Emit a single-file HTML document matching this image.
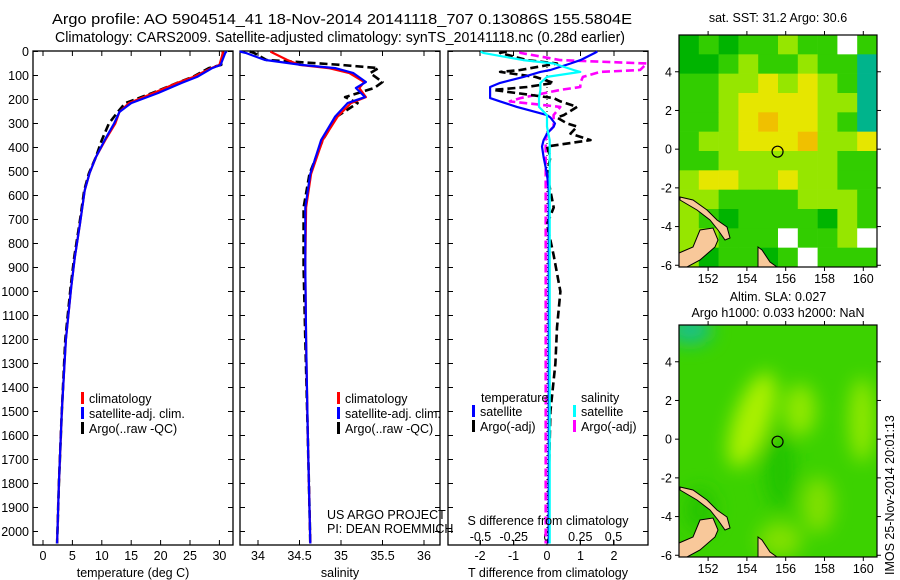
<!DOCTYPE html>
<html><head><meta charset="utf-8"><style>
html,body{margin:0;padding:0;background:#fff}
svg{display:block;font-family:"Liberation Sans",sans-serif}
</style></head><body>
<svg id="c" width="900" height="580" viewBox="0 0 900 580" xmlns="http://www.w3.org/2000/svg">
<text x="342" y="24" font-size="14.5" text-anchor="middle" textLength="580" lengthAdjust="spacingAndGlyphs">Argo profile: AO 5904514_41 18-Nov-2014 20141118_707 0.13086S 155.5804E</text>
<text x="340" y="42" font-size="14.5" text-anchor="middle" textLength="570" lengthAdjust="spacingAndGlyphs">Climatology: CARS2009. Satellite-adjusted climatology: synTS_20141118.nc (0.28d earlier)</text>
<g id="g"></g>
</svg>
<script>
// ---- data (depth in m) ----
const tDepth   = [0, 6, 56, 69, 106, 131, 173, 215, 252, 300, 369, 440, 508, 579, 717, 858, 983, 1200, 1500, 1800, 2050];
const tClim    = [30.5, 30.6, 30.0, 28.6, 25.6, 22.8, 18.8, 14.6, 13.0, 12.3, 10.6, 9.0, 7.9, 7.1, 6.3, 5.4, 4.8, 3.9, 3.2, 2.7, 2.4];
const tSat     = [31.2, 31.0, 30.2, 28.8, 26.2, 23.6, 19.6, 15.0, 13.0, 12.1, 10.5, 9.0, 7.9, 7.1, 6.3, 5.4, 4.8, 3.9, 3.2, 2.7, 2.4];
const tArgo    = [30.6, 30.6, 30.3, 28.2, 25.5, 22.8, 18.6, 14.0, 12.7, 11.2, 10.0, 9.0, 7.8, 7.0, 6.2, 5.3, 4.7, 3.8, 3.2, 2.7, 2.4];
const sDepth   = [0, 6, 35, 56, 69, 90, 127, 152, 190, 215, 271, 369, 510, 650, 900, 1200, 1600, 2050];
const sClim    = [34.15, 34.18, 34.35, 34.5, 34.85, 35.1, 35.28, 35.22, 35.3, 35.12, 34.96, 34.78, 34.64, 34.58, 34.57, 34.58, 34.6, 34.63];
const sSat     = [33.78, 33.85, 34.08, 34.52, 34.93, 35.15, 35.3, 35.18, 35.29, 35.08, 34.93, 34.76, 34.63, 34.57, 34.57, 34.58, 34.6, 34.63];
const sArgo    = [33.9, 33.95, 34.1, 35.0, 35.45, 35.35, 35.5, 35.4, 35.05, 35.2, 34.95, 34.78, 34.62, 34.55, 34.55, 34.57, 34.6, 34.63];
const dDepth   = [0, 6, 36, 50, 77, 85, 106, 131, 148, 160, 194, 208, 231, 265, 275, 300, 313, 342, 369, 396, 440, 510, 580, 650, 720, 850, 1000, 1150, 1300, 1500, 1800, 2050];
const dTsat    = [1.5, 1.43, 1.0, 0.7, 0.1, -0.2, -0.7, -1.4, -1.7, -1.7, -1.7, -1.4, -0.9, 0.0, 0.1, 0.24, 0.2, 0.0, -0.1, -0.15, -0.1, 0.0, 0.05, 0.05, 0.05, 0.05, 0.05, 0.05, 0.05, 0.05, 0.05, 0.05];
const dTargo   = [-1.2, -1.4, -0.6, 0.3, -0.8, -1.4, -0.35, 0.2, -0.6, -1.6, 0.2, 0.4, 0.9, 0.5, 0.3, 0.6, 0.9, 0.7, 1.3, 0.0, 0.1, 0.0, 0.1, 0.2, 0.0, 0.2, 0.4, 0.3, 0.25, 0.1, 0.05, 0.05];
const dSsat    = [-0.5, -0.48, -0.18, 0.05, 0.2, 0.25, 0.0, -0.05, -0.05, -0.05, -0.06, -0.06, -0.06, 0.0, 0.0, 0.0, 0.0, 0.01, 0.02, 0.02, 0.02, 0.02, 0.02, 0.02, 0.02, 0.02, 0.02, 0.02, 0.02, 0.02, 0.02, 0.02];
const dSargo   = [-0.2, -0.2, 0.1, 0.75, 0.7, 0.4, 0.27, 0.25, 0.25, 0.1, -0.2, -0.28, 0.1, 0.05, 0.05, 0.05, 0.05, 0.0, -0.01, -0.01, -0.01, -0.01, -0.01, -0.01, -0.01, -0.01, -0.01, -0.01, -0.01, -0.01, -0.01, -0.01];
const depthTicks = [0,100,200,300,400,500,600,700,800,900,1000,1100,1200,1300,1400,1500,1600,1700,1800,1900,2000];
const tTicks = [0,5,10,15,20,25,30];
const sTicks = [34,34.5,35,35.5,36];
const dTTicks = [-2,-1,0,1,2];
const dSTicks = [-0.5,-0.25,0,0.25,0.5];
const dSTickLabels = ["-0.5","-0.25","0","0.25","0.5"];
const lonTicks = [152,154,156,158,160];
const latTicks = [4,2,0,-2,-4,-6];
// SST map coarse grid (10 cols x 12 rows), class codes: 0 teal,1 dkgreen,2 green,3 lime,4 yellow,5 orange,9 missing
const sstGrid = [
 [1,2,1,2,2,3,2,2,9,2],
 [1,1,2,3,2,2,3,2,2,0],
 [2,2,3,3,4,3,4,3,2,0],
 [2,2,3,4,4,4,4,3,3,0],
 [2,2,3,4,5,4,4,3,2,0],
 [2,3,3,4,4,4,5,3,3,4],
 [2,2,3,3,3,3,3,3,2,2],
 [3,4,4,3,3,4,3,3,2,2],
 [3,3,2,2,2,2,3,3,3,2],
 [3,2,1,2,2,2,2,1,3,2],
 [3,3,2,2,2,9,2,2,3,9],
 [3,1,2,2,1,2,9,2,2,2]];
const argoLon = 155.58, argoLat = -0.13;

const NS='http://www.w3.org/2000/svg';
const G=document.getElementById('g');
function el(t,a,p){const e=document.createElementNS(NS,t);for(const k in a)e.setAttribute(k,a[k]);(p||G).appendChild(e);return e;}
const Y0=51.5, YPX=0.24, TOP=51, BOT=545;
const yD=d=>Y0+d*YPX;
const xT=v=>43+v*5.88;
const xS=v=>258+(v-34)*83;
const xDT=v=>547+v*33.5;
const xDS=v=>547+v*133;

function panel(name,x0,x1,labels){
  const f=el('rect',{x:x0,y:TOP,width:x1-x0,height:BOT-TOP,fill:'none',stroke:'#000','stroke-width':1.3});
  
  
  depthTicks.forEach(d=>{
    el('line',{x1:x0,x2:x0+5,y1:yD(d),y2:yD(d),stroke:'#000'});
    el('line',{x1:x1-5,x2:x1,y1:yD(d),y2:yD(d),stroke:'#000'});
    if(labels){const t=el('text',{x:x0-4,y:yD(d)+4.5,'font-size':12.5,'text-anchor':'end'});t.textContent=d;
      
      }
  });
}
function xticks(ticks,xf,labels,ly){
  ticks.forEach((v,i)=>{const x=xf(v);
    el('line',{x1:x,x2:x,y1:TOP,y2:TOP+5,stroke:'#000'});
    el('line',{x1:x,x2:x,y1:BOT-5,y2:BOT,stroke:'#000'});
    const t=el('text',{x:x,y:ly,'font-size':12.5,'text-anchor':'middle'});t.textContent=labels?labels[i]:v;
    
    
  });
}
function line(depths,vals,xf,color,dash,name,w){
  const pts=depths.map((d,i)=>xf(vals[i]).toFixed(1)+','+yD(d).toFixed(1)).join(' ');
  const a={points:pts,fill:'none',stroke:color,'stroke-width':w||2.2,'stroke-linejoin':'round'};
  if(dash)a['stroke-dasharray']=dash;
  const p=el('polyline',a);
  
  
}
function txt(x,y,s,size,anchor,name){const t=el('text',{x:x,y:y,'font-size':size,'text-anchor':anchor||'start'});t.textContent=s;
  
  return t;}
function legend(x,y,items){items.forEach((it,i)=>{
  el('rect',{x:x,y:y+i*15-6,width:3,height:12,fill:it[0]});
  txt(x+8,y+i*15+5,it[1],12.5,'start','legend-entry');
});}

// Panel 1
panel('temperature-panel',33,233,true);
xticks(tTicks,xT,null,560);
line(tDepth,tArgo,xT,'#000','8,4','argo-temperature-line',2.6);
line(tDepth,tClim,xT,'#f00',null,'climatology-temperature-line');
line(tDepth,tSat,xT,'#00f',null,'satellite-temperature-line');
txt(133,577,'temperature (deg C)',12.5,'middle','x-axis-title-temperature');
legend(81,398,[['#f00','climatology'],['#00f','satellite-adj. clim.'],['#000','Argo(..raw -QC)']]);

// Panel 2
panel('salinity-panel',240,440,false);
xticks(sTicks,xS,null,560);
line(sDepth,sArgo,xS,'#000','8,4','argo-salinity-line',2.6);
line(sDepth,sClim,xS,'#f00',null,'climatology-salinity-line');
line(sDepth,sSat,xS,'#00f',null,'satellite-salinity-line');
txt(340,577,'salinity',12.5,'middle','x-axis-title-salinity');
legend(337,398,[['#f00','climatology'],['#00f','satellite-adj. clim.'],['#000','Argo(..raw -QC)']]);
txt(327,519,'US ARGO PROJECT',12.5,'start','project-label');
txt(327,533,'PI: DEAN ROEMMICH',12.5,'start','pi-label');

// Panel 3
panel('difference-panel',448,648,false);
el('line',{x1:547,x2:547,y1:TOP,y2:BOT,stroke:'#000','stroke-dasharray':'1,3'});
xticks(dTTicks,xDT,null,560);
dSTicks.forEach((v,i)=>{const x=xDS(v);el('line',{x1:x,x2:x,y1:BOT-5,y2:BOT,stroke:'#000'});
  const t=txt(x,541,dSTickLabels[i],12.5,'middle','s-tick-label');});
line(dDepth,dSargo,xDS,'#f0f','8,4','argo-salinity-diff-line',2.6);
line(dDepth,dTargo,xDT,'#000','8,4','argo-temperature-diff-line',2.6);
line(dDepth,dTsat,xDT,'#00f',null,'satellite-temperature-diff-line');
line(dDepth,dSsat,xDS,'#0ff',null,'satellite-salinity-diff-line');
txt(548,525,'S difference from climatology',12.5,'middle','s-axis-title');
txt(548,577,'T difference from climatology',12.5,'middle','t-axis-title');
txt(481,402,'temperature',12.5,'start','legend-header-temperature');
txt(581,402,'salinity',12.5,'start','legend-header-salinity');
legend(472,411,[['#00f','satellite'],['#000','Argo(-adj)']]);
legend(573,411,[['#0ff','satellite'],['#f0f','Argo(-adj)']]);

// Maps
const MX0=679,MX1=877;
const lonX=l=>MX0+(l-150.5)*19.4;
function latY(top,lat){return top+(5.9-lat)*19.35;}
const landPts=[[[679,253],[693,247],[700,230],[713,228],[718,240],[715,247],[700,260],[687,267],[679,267]],
 [[680,197],[693,200],[707,210],[717,220],[727,227],[730,238],[725,240],[718,230],[710,220],[697,210],[680,200]],
 [[758,247],[762,250],[770,262],[777,267],[758,267]]];
function mapFrame(top,bot,name){
  landPts.forEach(p=>{const q=el('polygon',{points:p.map(v=>v[0]+','+(v[1]-35+top)).join(' '),fill:'#f8c89a',stroke:'#000','stroke-width':1});
    
    });
  const c=el('circle',{cx:lonX(argoLon),cy:latY(top,argoLat),r:5.5,fill:'none',stroke:'#000','stroke-width':1.2});
  
  
  const f=el('rect',{x:MX0,y:top,width:MX1-MX0,height:bot-top,fill:'none',stroke:'#000','stroke-width':1.2});
  
  
  lonTicks.forEach(l=>{const x=lonX(l);
    el('line',{x1:x,x2:x,y1:top-4,y2:top,stroke:'#000'});el('line',{x1:x,x2:x,y1:bot,y2:bot+4,stroke:'#000'});
    txt(x,bot+16,l,12.5,'middle','lon-tick-label');});
  latTicks.forEach(l=>{const y=latY(top,l);
    el('line',{x1:MX0-4,x2:MX0,y1:y,y2:y,stroke:'#000'});el('line',{x1:MX1,x2:MX1+4,y1:y,y2:y,stroke:'#000'});
    txt(MX0-7,y+4.5,l,12.5,'end','lat-tick-label');});
}
// SST map
const sstCol=['#00b48c','#00b400','#32cd00','#96e600','#e6e600','#f0c000','#ffffff'];
const m1=el('g',{});


const cw=(MX1-MX0)/10, ch=(267-35)/12;
sstGrid.forEach((row,r)=>row.forEach((v,c)=>{
  const cell=el('rect',{x:MX0+c*cw,y:35+r*ch,width:cw+0.3,height:ch+0.3,fill:v===9?'#fff':sstCol[v]},m1);
  
  
}));
mapFrame(35,267,'sst-map-frame');
txt(778,22,'sat. SST: 31.2 Argo: 30.6',12.5,'middle','sst-map-title');

// SLA map (smooth)
const defs=el('defs',{});
const fl=el('filter',{id:'bl',x:'-50%',y:'-50%',width:'200%',height:'200%'},defs);
el('feGaussianBlur',{stdDeviation:9},fl);
const cp=el('clipPath',{id:'cp2'},defs);
el('rect',{x:MX0,y:325,width:MX1-MX0,height:232},cp);
const m2=el('g',{'clip-path':'url(#cp2)'});


el('rect',{x:MX0,y:325,width:MX1-MX0,height:232,fill:'#3cd200'},m2);
const bg=el('g',{filter:'url(#bl)'},m2);
el('ellipse',{cx:690,cy:330,rx:22,ry:14,fill:'#14c08c'},bg);
el('ellipse',{cx:752,cy:420,rx:18,ry:50,fill:'#aaf000',transform:'rotate(20 752 420)'},bg);
el('ellipse',{cx:800,cy:410,rx:16,ry:26,fill:'#90e800'},bg);
el('ellipse',{cx:862,cy:420,rx:13,ry:42,fill:'#90e800'},bg);
el('ellipse',{cx:818,cy:505,rx:16,ry:28,fill:'#80e000'},bg);
el('ellipse',{cx:780,cy:540,rx:22,ry:18,fill:'#80e000'},bg);
el('ellipse',{cx:780,cy:470,rx:16,ry:40,fill:'#22c400'},bg);
el('ellipse',{cx:700,cy:510,rx:16,ry:22,fill:'#28c400'},bg);
mapFrame(325,557,'sla-map-frame');
txt(778,301,'Altim. SLA: 0.027',12.5,'middle','sla-map-title');
txt(778,317,'Argo h1000: 0.033 h2000: NaN',12.5,'middle','steric-height-label');
const ts=txt(0,0,'IMOS 25-Nov-2014 20:01:13',12.5,'start','timestamp-label');
ts.setAttribute('transform','translate(894,575) rotate(-90)');
</script>
</body></html>
